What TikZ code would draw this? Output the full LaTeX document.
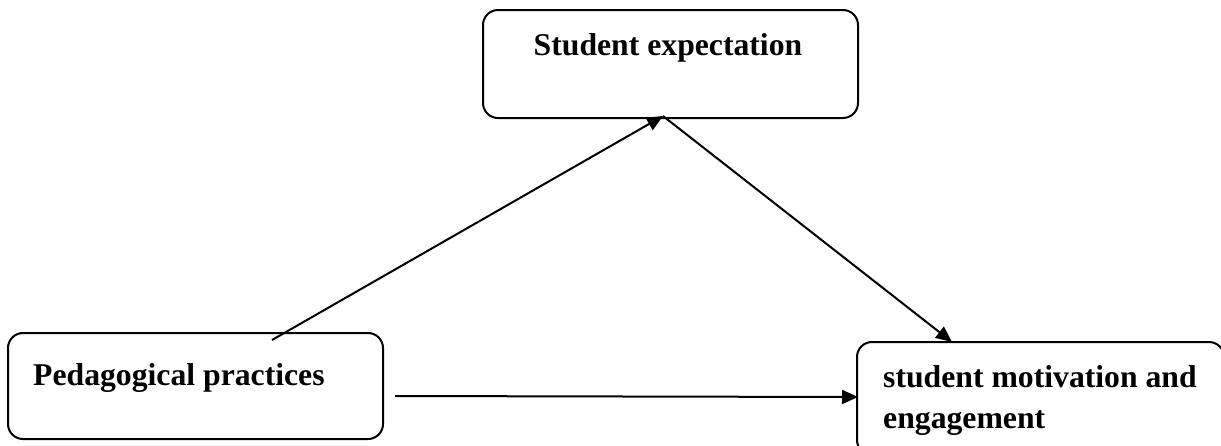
\documentclass[tikz,border=0pt]{standalone}
\usepackage{fontspec}
\setmainfont{Liberation Serif}
\usetikzlibrary{arrows.meta,calc}
\begin{document}
\begin{tikzpicture}[x=1pt,y=-1pt,
  box/.style={draw,line width=2pt,rounded corners=15pt,inner sep=0pt},
  lbl/.style={inner sep=0pt,font=\fontsize{31.7}{41}\selectfont\bfseries},
  conn/.style={line width=2pt,-{Triangle[length=16pt,width=14pt]}}]
\useasboundingbox (0,0) rectangle (1221,445);
\clip (0,0) rectangle (1221,445);
% boxes
\node[box,minimum width=375pt,minimum height=108pt] (top) at (670.5,64) {};
\node[box,minimum width=375pt,minimum height=106pt] (left) at (195.5,386) {};
\node[box,minimum width=367pt,minimum height=113pt] (right) at (1040.5,398.5) {};
% labels
\node[lbl,anchor=base] (topt) at (668,55) {Student expectation};
\node[lbl,anchor=base west] (leftt) at (33,385) {Pedagogical practices};
\node[lbl,anchor=base west,align=left] (rightt) at (883,428) {student motivation and\\engagement};
% connector end points
\coordinate (a1s) at ($(left.north)+(76.5,8)$);
\coordinate (a1e) at ($(top.south)+(-7.5,-3)$);
\coordinate (a2e) at ($(right.north)+(-88.5,1)$);
\coordinate (a3s) at ($(left.east)+(11,10)$);
\coordinate (a3e) at ($(right.west)+(2,-1.5)$);
\draw[conn] (a1s) -- (a1e);
\draw[conn] (a1e) -- (a2e);
\draw[conn] (a3s) -- (a3e);
\end{tikzpicture}
\end{document}
